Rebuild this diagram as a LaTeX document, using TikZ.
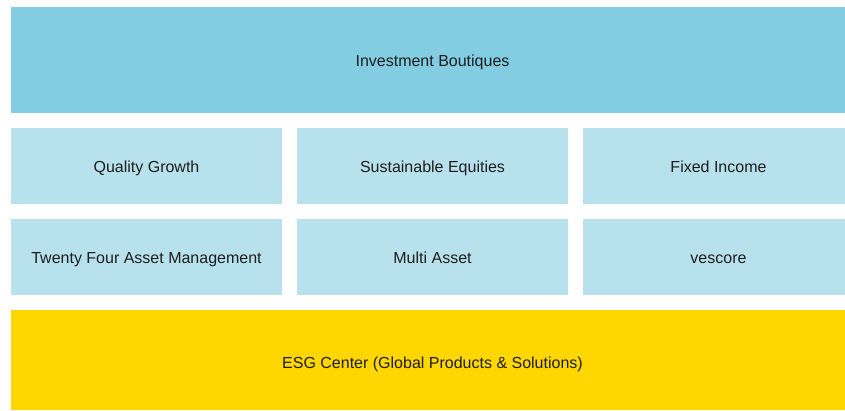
\documentclass[tikz,border=0pt]{standalone}
\usepackage{fontspec}
\setmainfont{Liberation Sans}
\definecolor{topblue}{HTML}{82CDE1}
\definecolor{lightblue}{HTML}{B8E1EE}
\definecolor{esgyellow}{HTML}{FFD600}
\definecolor{txt}{HTML}{1E1E1E}
\begin{document}
\begin{tikzpicture}[x=1pt,y=-1pt,
  box/.style={inner sep=0pt, text=txt, text height=11.5pt, text depth=3.5pt, font=\fontsize{16}{18}\selectfont}]
\useasboundingbox (0,0) rectangle (845,410);
\fill[white] (0,0) rectangle (845,410);
\fill[topblue] (11,7) rectangle (845,113);
\node[box] (ib) at (432.5,62.5) {Investment Boutiques};
\fill[lightblue] (11,128) rectangle (282,204);
\fill[lightblue] (297,128) rectangle (568,204);
\fill[lightblue] (583,128) rectangle (845,204);
\fill[lightblue] (11,219) rectangle (282,295);
\fill[lightblue] (297,219) rectangle (568,295);
\fill[lightblue] (583,219) rectangle (845,295);
\node[box] (qg) at (146.5,168.5) {Quality Growth};
\node[box] (se) at (432.5,168.5) {Sustainable Equities};
\node[box] (fi) at (718.5,168.5) {Fixed Income};
\node[box] (tf) at (146.5,259.5) {Twenty Four Asset Management};
\node[box] (ma) at (432.5,259.5) {Multi Asset};
\node[box] (vs) at (718.5,259.5) {vescore};
\fill[esgyellow] (11,310) rectangle (845,410);
\node[box] (esg) at (432.5,364.5) {ESG Center (Global Products \& Solutions)};
\end{tikzpicture}
\end{document}
